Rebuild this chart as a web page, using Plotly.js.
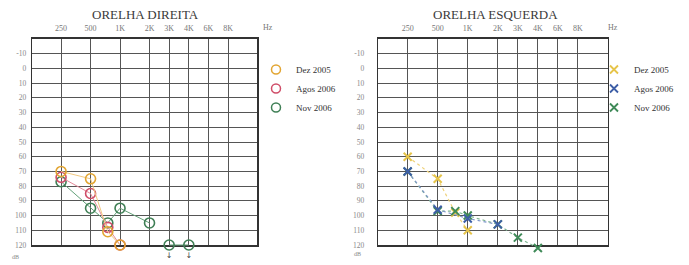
<!DOCTYPE html>
<html>
<head>
<meta charset="utf-8">
<script src="https://cdn.plot.ly/plotly-3.0.1.min.js"></script>
<style>html,body{margin:0;padding:0;background:#fff;}#chart{width:689px;height:265px;}</style>
</head>
<body>
<div id="chart"></div>
<script>
// ---- Data ----
const freqLabels = ['250', '500', '1K', '2K', '3K', '4K', '6K', '8K'];
const gridFreqs = [250, 500, 1000, 2000, 3000, 4000, 6000, 8000];
const dbTicks = [-10, 0, 10, 20, 30, 40, 50, 60, 70, 80, 90, 100, 110, 120];

const seriesNames = ['Dez 2005', 'Agos 2006', 'Nov 2006'];

// Orelha direita (right ear, circles)
const dirDezFreq = [250, 500, 750, 1000];
const dirDezDb = [70, 75, 111, 120];
const dirAgosFreq = [250, 500, 750, 1000];
const dirAgosDb = [74, 85, 108, 120];
const dirNovFreq = [250, 500, 750, 1000, 2000, null, 3000, 4000];
const dirNovDb = [77, 95, 105, 95, 105, null, 120, 120];

// Orelha esquerda (left ear, crosses)
const esqDezFreq = [250, 500, 750, 1000];
const esqDezDb = [60, 75, 98, 110];
const esqAgosFreq = [250, 500, 1000, 2000];
const esqAgosDb = [70, 96, 102, 106];
const esqNovFreq = [250, 500, 750, 1000, 2000, 3000, 4000];
const esqNovDb = [70, 97, 97, 100, 106, 115, 122];

// ---- Audiogram frequency scale (column units between grid frequencies) ----
const colUnits = [0, 3, 6, 9, 11, 13, 15, 17];
function fpos(f) {
  if (f === null) return null;
  for (let i = 0; i < gridFreqs.length - 1; i++) {
    const a = gridFreqs[i], b = gridFreqs[i + 1];
    if (f >= a && f <= b) {
      return colUnits[i] + Math.log(f / a) / Math.log(b / a) * (colUnits[i + 1] - colUnits[i]);
    }
  }
  return f < gridFreqs[0] ? colUnits[0] : colUnits[colUnits.length - 1];
}
const X = arr => arr.map(fpos);

const serif = 'Liberation Serif, Times New Roman, serif';
const colR = {dez: '#e2a532', agos: '#cf4d68', nov: '#3f7f55'};
const lineR = {dez: '#f2c981', agos: '#e48a99', nov: '#63a179'};
const colL = {dez: '#e6c44a', agos: '#3d5ea6', nov: '#3f8a58'};
const lineL = {dez: '#efd27a', agos: '#7f97c9', nov: '#7fb592'};

// Data are drawn on hidden axes (x3/y3, x4/y4) with the same scale as the grid axes,
// extended a little below 120 dB so marks below the limit stay visible.
function circleTrace(fx, db, col, lcol) {
  return {x: X(fx), y: db, xaxis: 'x3', yaxis: 'y3', mode: 'lines+markers', showlegend: false,
    connectgaps: false, cliponaxis: false, hoverinfo: 'skip',
    line: {color: lcol, width: 1},
    marker: {symbol: 'circle-open', size: 10, color: col, line: {width: 1.6, color: col}}};
}
function crossTrace(fx, db, col, lcol) {
  return {x: X(fx), y: db, xaxis: 'x4', yaxis: 'y4', mode: 'lines+markers', showlegend: false,
    cliponaxis: false, hoverinfo: 'skip',
    line: {color: lcol, width: 1.2, dash: 'dot'},
    marker: {symbol: 'x-thin-open', size: 8, color: col, line: {width: 2, color: col}}};
}

const traces = [
  circleTrace(dirNovFreq, dirNovDb, colR.nov, lineR.nov),
  circleTrace(dirAgosFreq, dirAgosDb, colR.agos, lineR.agos),
  circleTrace(dirDezFreq, dirDezDb, colR.dez, lineR.dez),
  crossTrace(esqDezFreq, esqDezDb, colL.dez, lineL.dez),
  crossTrace(esqNovFreq, esqNovDb, colL.nov, lineL.nov),
  crossTrace(esqAgosFreq, esqAgosDb, colL.agos, lineL.agos)
];

// "no response" arrows under points at the 120 dB limit
const nrIdx = dirNovDb.map((v, i) => v !== null && v >= 120 ? i : -1).filter(i => i >= 0);
traces.push({x: nrIdx.map(i => fpos(dirNovFreq[i])), y: nrIdx.map(i => dirNovDb[i]),
  xaxis: 'x3', yaxis: 'y3', mode: 'markers+text', text: nrIdx.map(() => '↓'), textposition: 'bottom center',
  marker: {size: 10, color: 'rgba(0,0,0,0)'},
  textfont: {family: 'DejaVu Sans', size: 8, color: '#444'}, cliponaxis: false, showlegend: false, hoverinfo: 'skip'});

// legend entries
const rCols = [colR.dez, colR.agos, colR.nov];
const lCols = [colL.dez, colL.agos, colL.nov];
seriesNames.forEach((n, i) => {
  traces.push({x: [null], y: [null], xaxis: 'x', yaxis: 'y', mode: 'markers', name: n, legend: 'legend',
    marker: {symbol: 'circle-open', size: 9, color: rCols[i], line: {width: 1.5, color: rCols[i]}}});
});
seriesNames.forEach((n, i) => {
  traces.push({x: [null], y: [null], xaxis: 'x2', yaxis: 'y2', mode: 'markers', name: n, legend: 'legend2',
    marker: {symbol: 'x-thin-open', size: 8, color: lCols[i], line: {width: 1.8, color: lCols[i]}}});
});

// ---- Layout geometry ----
const xRange = [-2.93, 19.97];
const dbTop = -20, dbBottom = 120, dbOver = 128;
const pxTop = 39, pxBottom = 245, H = 265;
const pxOver = pxBottom + (dbOver - dbBottom) * (pxBottom - pxTop) / (dbBottom - dbTop);
const yDom = [(H - pxBottom) / H, (H - pxTop) / H];
const yDomData = [(H - pxOver) / H, (H - pxTop) / H];
const xDomR = [32.3 / 689, 257.3 / 689];
const xDomL = [378.3 / 689, 607.7 / 689];

const xBase = {
  range: xRange, side: 'top', tickvals: colUnits, ticktext: freqLabels,
  showgrid: true, gridcolor: '#555', gridwidth: 1, zeroline: false,
  showline: true, mirror: true, linecolor: '#333', linewidth: 1.6,
  ticks: '', tickfont: {family: serif, size: 8, color: '#777'}, ticklabelstandoff: 3, fixedrange: true
};
const yBase = {
  range: [dbBottom, dbTop], tickvals: dbTicks, ticktext: dbTicks.map(String),
  showgrid: true, gridcolor: '#555', gridwidth: 1, zeroline: false,
  showline: true, mirror: true, linecolor: '#333', linewidth: 1.6,
  ticks: '', tickfont: {family: serif, size: 7.5, color: '#888'}, fixedrange: true
};
const hiddenX = {range: xRange, visible: false, fixedrange: true};
const hiddenY = {range: [dbOver, dbTop], visible: false, fixedrange: true};

const layout = {
  width: 689, height: 265,
  margin: {l: 0, r: 0, t: 0, b: 0},
  paper_bgcolor: '#fff', plot_bgcolor: 'rgba(0,0,0,0)',
  xaxis: Object.assign({}, xBase, {domain: xDomR, anchor: 'y'}),
  yaxis: Object.assign({}, yBase, {domain: yDom, anchor: 'x', ticklabelstandoff: 3}),
  xaxis2: Object.assign({}, xBase, {domain: xDomL, anchor: 'y2'}),
  yaxis2: Object.assign({}, yBase, {domain: yDom, anchor: 'x2', ticklabelstandoff: 11}),
  xaxis3: Object.assign({}, hiddenX, {domain: xDomR, anchor: 'y3'}),
  yaxis3: Object.assign({}, hiddenY, {domain: yDomData, anchor: 'x3'}),
  xaxis4: Object.assign({}, hiddenX, {domain: xDomL, anchor: 'y4'}),
  yaxis4: Object.assign({}, hiddenY, {domain: yDomData, anchor: 'x4'}),
  legend: {x: 256 / 689, y: 1 - 55 / 265, xanchor: 'left', yanchor: 'top', bgcolor: 'rgba(0,0,0,0)',
    font: {family: serif, size: 9, color: '#333'}, itemwidth: 30},
  legend2: {x: 594 / 689, y: 1 - 55 / 265, xanchor: 'left', yanchor: 'top', bgcolor: 'rgba(0,0,0,0)',
    font: {family: serif, size: 9, color: '#333'}, itemwidth: 30},
  annotations: [
    {text: 'ORELHA DIREITA', xref: 'paper', yref: 'paper', x: 145 / 689, y: 1 - 15 / 265,
      xanchor: 'center', yanchor: 'middle', showarrow: false, font: {family: serif, size: 13, color: '#3a3a3a'}},
    {text: 'ORELHA ESQUERDA', xref: 'paper', yref: 'paper', x: 495 / 689, y: 1 - 15 / 265,
      xanchor: 'center', yanchor: 'middle', showarrow: false, font: {family: serif, size: 13, color: '#3a3a3a'}},
    {text: 'Hz', xref: 'paper', yref: 'paper', x: 268 / 689, y: 1 - 28 / 265, xanchor: 'center', yanchor: 'middle',
      showarrow: false, font: {family: serif, size: 8, color: '#777'}},
    {text: 'Hz', xref: 'paper', yref: 'paper', x: 613 / 689, y: 1 - 28 / 265, xanchor: 'center', yanchor: 'middle',
      showarrow: false, font: {family: serif, size: 8, color: '#777'}},
    {text: 'dB', xref: 'paper', yref: 'paper', x: 15 / 689, y: 1 - 257 / 265, xanchor: 'center', yanchor: 'middle',
      showarrow: false, font: {family: serif, size: 6, color: '#888'}},
    {text: 'dB', xref: 'paper', yref: 'paper', x: 357 / 689, y: 1 - 254 / 265, xanchor: 'center', yanchor: 'middle',
      showarrow: false, font: {family: serif, size: 6, color: '#888'}}
  ]
};

Plotly.newPlot('chart', traces, layout, {displayModeBar: false, staticPlot: true});
</script>
</body>
</html>
